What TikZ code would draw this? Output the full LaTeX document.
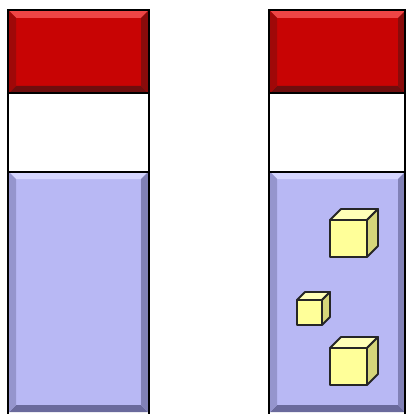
\documentclass[tikz,border=0pt]{standalone}
\usetikzlibrary{calc}
\definecolor{redbase}{HTML}{C80404}
\definecolor{redlight}{HTML}{EE4545}
\definecolor{reddark}{HTML}{6E0E0E}
\definecolor{bluebase}{HTML}{B8B8F4}
\definecolor{bluelight}{HTML}{D6D6FF}
\definecolor{bluedark}{HTML}{6A6A9C}
\definecolor{cubefront}{HTML}{FFFF99}
\definecolor{cubetop}{HTML}{FFFFB8}
\definecolor{cubeside}{HTML}{D6D67A}
\tikzset{
  outline/.style={draw=black, line width=2.2pt},
  cubeline/.style={draw=black!85, line width=1.8pt, line join=round},
}
% beveled box: x1 y1 x2 y2 base light dark bevel
\newcommand{\bevbox}[8]{%
  \fill[#5] (#1,#2) rectangle (#3,#4);
  \fill[#6] (#1,#2) -- (#3,#2) -- ($(#3,#2)+(-#8,#8)$) -- ($(#1,#2)+(#8,#8)$) -- cycle;
  \fill[#7] (#1,#4) -- (#3,#4) -- ($(#3,#4)+(-#8,-#8)$) -- ($(#1,#4)+(#8,-#8)$) -- cycle;
  \fill[#7!70!#5] (#3,#2) -- (#3,#4) -- ($(#3,#4)+(-#8,-#8)$) -- ($(#3,#2)+(-#8,#8)$) -- cycle;
  \fill[#7!45!#5] (#1,#2) -- (#1,#4) -- ($(#1,#4)+(#8,-#8)$) -- ($(#1,#2)+(#8,#8)$) -- cycle;
}
% cube: x y (front top-left) size depth
\newcommand{\cube}[4]{%
  \filldraw[cubeline, fill=cubetop] (#1,#2) -- ++(#4,-#4) -- ++(#3,0) -- ++(-#4,#4) -- cycle;
  \filldraw[cubeline, fill=cubeside] (#1+#3,#2) -- ++(#4,-#4) -- ++(0,#3) -- ++(-#4,#4) -- cycle;
  \filldraw[cubeline, fill=cubefront] (#1,#2) rectangle ++(#3,#3);
}
\begin{document}
\begin{tikzpicture}[x=1pt,y=-1pt]
\useasboundingbox (0,0) rectangle (406,414);
\fill[white] (0,0) rectangle (406,414);
% left column
\bevbox{9}{11}{148}{93}{redbase}{redlight}{reddark}{7}
\fill[white] (9,93) rectangle (148,172);
\bevbox{9}{172}{148}{412}{bluebase}{bluelight}{bluedark}{7}
\draw[outline] (8,10) rectangle (149,416);
\draw[outline] (8,93) -- (149,93);
\draw[outline] (8,172) -- (149,172);
% right column
\bevbox{270}{11}{405}{93}{redbase}{redlight}{reddark}{7}
\fill[white] (270,93) rectangle (405,172);
\bevbox{270}{172}{405}{412}{bluebase}{bluelight}{bluedark}{7}
\draw[outline] (269,10) rectangle (405,416);
\draw[outline] (269,93) -- (405,93);
\draw[outline] (269,172) -- (405,172);
% cubes
\cube{330}{220}{37}{11}
\cube{297}{300}{25}{8}
\cube{330}{348}{37}{11}
\end{tikzpicture}
\end{document}
